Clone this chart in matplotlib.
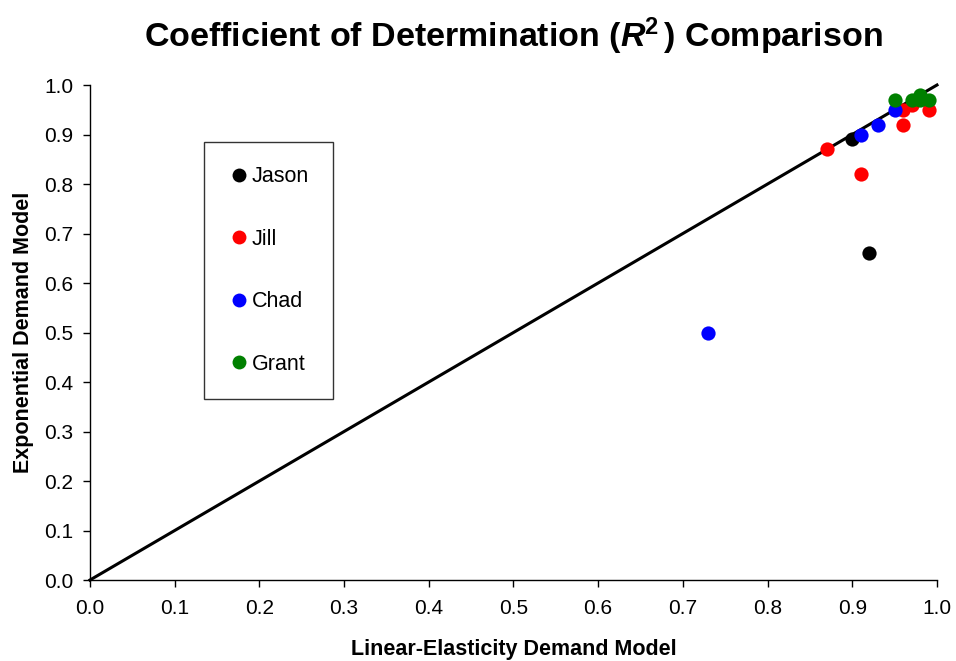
import matplotlib
matplotlib.use("Agg")
import matplotlib.pyplot as plt
from matplotlib.lines import Line2D

plt.rcParams['font.family'] = ['Liberation Sans', 'DejaVu Sans']
plt.rcParams['mathtext.fontset'] = 'custom'
plt.rcParams['mathtext.rm'] = 'Liberation Sans'
plt.rcParams['mathtext.it'] = 'Liberation Sans:italic'
plt.rcParams['mathtext.bf'] = 'Liberation Sans:bold'
plt.rcParams['mathtext.bfit'] = 'Liberation Sans:italic:bold'

names = ["Jason", "Jill", "Chad", "Grant"]
colors = ["black", "red", "blue", "green"]
jason_x = [0.90, 0.92]
jason_y = [0.89, 0.66]
jill_x = [0.87, 0.91, 0.96, 0.96, 0.97, 0.99]
jill_y = [0.87, 0.82, 0.92, 0.95, 0.96, 0.95]
chad_x = [0.73, 0.91, 0.93, 0.95]
chad_y = [0.50, 0.90, 0.92, 0.95]
grant_x = [0.95, 0.97, 0.98, 0.98, 0.99]
grant_y = [0.97, 0.97, 0.98, 0.97, 0.97]
line_x = [0.0, 1.0]
line_y = [0.0, 1.0]
ticks = [round(i * 0.1, 1) for i in range(11)]

fig = plt.figure(figsize=(9.56, 6.61), dpi=100)
ax = fig.add_axes([0.0941, 0.1225, 0.8860, 0.7489])
ax.plot(line_x, line_y, color="black", lw=2.2, zorder=2, clip_on=False)
series = [(jason_x, jason_y), (jill_x, jill_y), (chad_x, chad_y), (grant_x, grant_y)]
for (xs, ys), c, n in zip(series, colors, names):
    ax.scatter(xs, ys, s=105, color=c, zorder=3, label=n, clip_on=False, linewidths=0)

ax.set_xlim(0, 1)
ax.set_ylim(0, 1)
ax.set_xticks(ticks)
ax.set_yticks(ticks)
ax.set_xticklabels([f"{t:.1f}" for t in ticks], fontsize=15)
ax.set_yticklabels([f"{t:.1f}" for t in ticks], fontsize=15)
ax.spines['top'].set_visible(False)
ax.spines['right'].set_visible(False)
ax.spines['left'].set_linewidth(1.0)
ax.spines['bottom'].set_linewidth(1.0)
ax.tick_params(direction='out', length=5, width=1)
ax.tick_params(axis='x', pad=9)
ax.tick_params(axis='y', pad=7)
ax.set_xlabel("Linear-Elasticity Demand Model", fontsize=15.5, fontweight='bold', labelpad=15)
ax.set_ylabel("Exponential Demand Model", fontsize=15.5, fontweight='bold', labelpad=7)
fig.suptitle(r"Coefficient of Determination ($\mathbfit{R}^{\mathbf{2}}\,$) Comparison",
             fontsize=24.5, fontweight='bold', x=0.537, y=0.977)

handles = [Line2D([], [], marker='o', ls='', color=c, markersize=10, markeredgewidth=0) for c in colors]
leg = ax.legend(handles, names, loc='upper left', bbox_to_anchor=(0.1346, 0.8848), fontsize=15.5,
                frameon=True, fancybox=False, edgecolor='black', labelspacing=1.93,
                handletextpad=0.05, borderpad=1.12, handlelength=1.05, borderaxespad=0)
leg.get_frame().set_linewidth(1.0)

fig.savefig("out.png", dpi=100)
